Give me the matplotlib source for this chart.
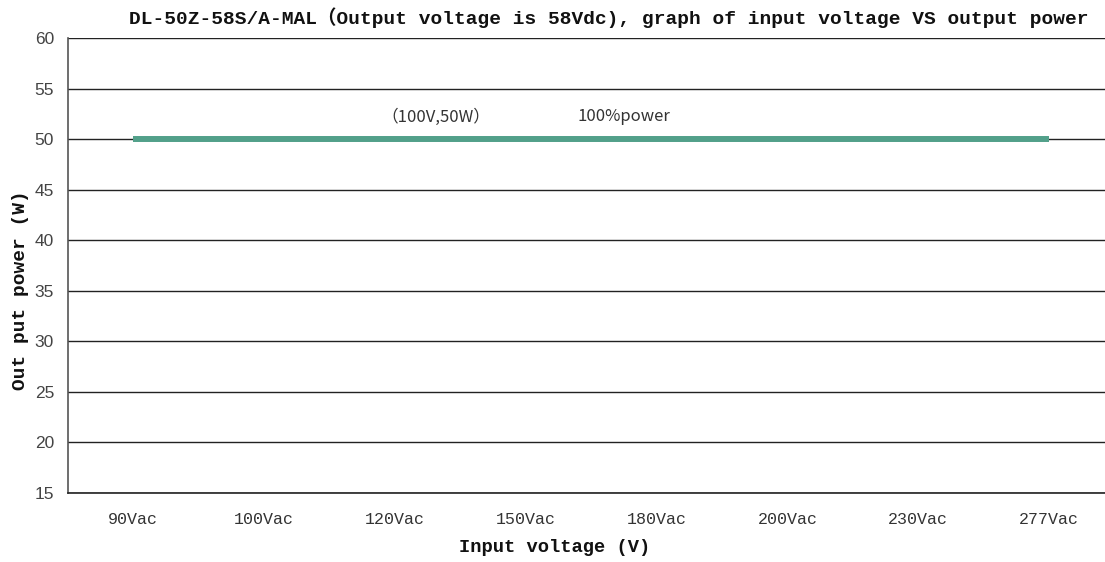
import matplotlib
matplotlib.use("Agg")
import matplotlib.pyplot as plt


CATEGORIES = ["90Vac", "100Vac", "120Vac", "150Vac", "180Vac", "200Vac", "230Vac", "277Vac"]
OUTPUT_POWER = [50, 50, 50, 50, 50, 50, 50, 50]
Y_TICKS = [15, 20, 25, 30, 35, 40, 45, 50, 55, 60]

TITLE = "DL-50Z-58S/A-MAL\uff08Output voltage is 58Vdc), graph of input voltage VS output power"
LINE_COLOR = "#52a08a"
SERIF = ["Liberation Mono", "Noto Sans CJK SC"]


def main():
    fig = plt.figure(figsize=(11.05, 5.62), dpi=100)
    ax = fig.add_axes([0.0615, 0.1228, 0.947, 0.8096])

    x = list(range(len(CATEGORIES)))
    ax.plot(x, OUTPUT_POWER, color=LINE_COLOR, linewidth=4.3, solid_capstyle="butt", zorder=3)

    ax.set_xlim(-0.5, len(CATEGORIES) - 0.5)
    ax.set_ylim(15, 60)
    ax.set_yticks(Y_TICKS)
    ax.set_xticks(x)
    ax.set_xticklabels(CATEGORIES, fontfamily="Liberation Mono", fontsize=12)
    ax.tick_params(axis="x", length=0, pad=14, colors="#333333")
    ax.tick_params(axis="y", length=0, pad=10, colors="#444444")
    for label in ax.get_yticklabels():
        label.set_fontfamily("Liberation Sans")
        label.set_fontsize(12.5)

    ax.grid(axis="y", color="#222222", linewidth=1.0, zorder=1)
    ax.spines["top"].set_visible(False)
    ax.spines["right"].set_visible(False)
    ax.spines["left"].set_color("#555555")
    ax.spines["bottom"].set_color("#222222")
    ax.spines["left"].set_linewidth(1.2)
    ax.spines["bottom"].set_linewidth(1.2)

    # annotations above the line
    ax.text(2.31, 52.2, "\uff08100V,50W\uff09", fontfamily=["Noto Sans CJK SC"], fontsize=12,
            ha="center", va="center", color="#333333")
    ax.text(3.75, 52.2, "100%power", fontfamily=["Noto Sans CJK SC"], fontsize=12,
            ha="center", va="center", color="#333333")

    fig.text(0.551, 0.968, TITLE, fontfamily=SERIF, fontsize=14, fontweight="bold",
             ha="center", va="center", color="#111111")
    fig.text(0.502, 0.025, "Input voltage (V)", fontfamily=SERIF, fontsize=13.5,
             fontweight="bold", ha="center", va="center", color="#111111")
    fig.text(0.019, 0.484, "Out put power (W)", fontfamily=SERIF, fontsize=14,
             fontweight="bold", ha="center", va="center", rotation=90, color="#111111")

    fig.savefig("out.png", dpi=100)
    plt.close(fig)


if __name__ == "__main__":
    main()
